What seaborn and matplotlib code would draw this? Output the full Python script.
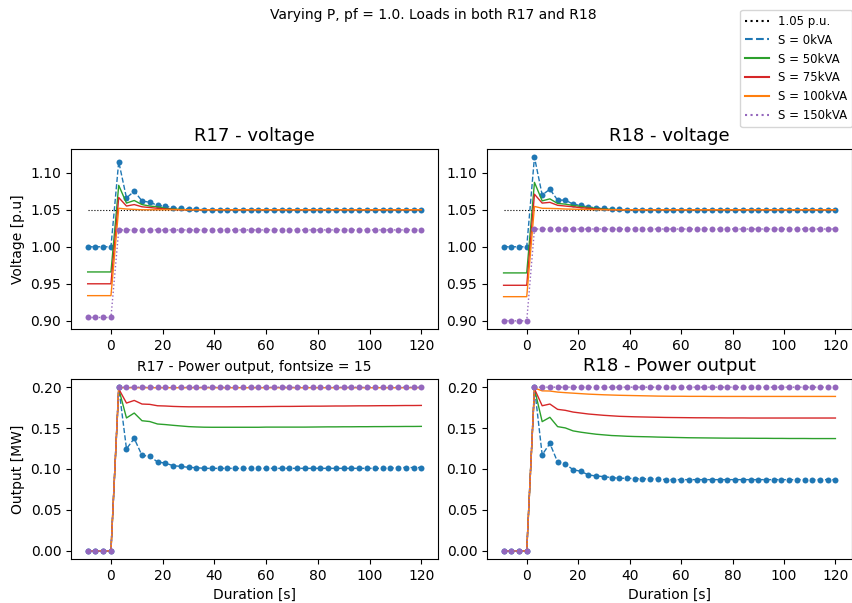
import matplotlib
matplotlib.use("Agg")
import matplotlib.pyplot as plt
from matplotlib.lines import Line2D
import seaborn as sns

time = [-9, -6, -3, 0, 3, 6, 9, 12, 15, 18, 21, 24, 27, 30, 33, 36, 39, 42, 45, 48,
        51, 54, 57, 60, 63, 66, 69, 72, 75, 78, 81, 84, 87, 90, 93, 96, 99, 102,
        105, 108, 111, 114, 117, 120]

ref_t = [-9, 120]
ref_v = [1.05, 1.05]

labels = ["S = 0kVA", "S = 50kVA", "S = 75kVA", "S = 100kVA", "S = 150kVA"]

# ---- R17 voltage ----
r17_v_0 = [1.0, 1.0, 1.0, 1.0, 1.115, 1.066, 1.075, 1.062, 1.060, 1.056, 1.0545, 1.053,
           1.052, 1.051, 1.051, 1.05, 1.05, 1.05, 1.05, 1.05, 1.05, 1.05, 1.05, 1.05,
           1.05, 1.05, 1.05, 1.05, 1.05, 1.05, 1.05, 1.05, 1.05, 1.05, 1.05, 1.05, 1.05,
           1.05, 1.05, 1.05, 1.05, 1.05, 1.05, 1.05]
r17_v_50 = [0.966, 0.966, 0.966, 0.966, 1.083, 1.059, 1.0625, 1.057, 1.055, 1.054, 1.052,
            1.051, 1.0505, 1.05, 1.05, 1.05, 1.05, 1.05, 1.05, 1.05, 1.05, 1.05, 1.05,
            1.05, 1.05, 1.05, 1.05, 1.05, 1.05, 1.05, 1.05, 1.05, 1.05, 1.05, 1.05, 1.05,
            1.05, 1.05, 1.05, 1.05, 1.05, 1.05, 1.05, 1.05]
r17_v_75 = [0.95, 0.95, 0.95, 0.95, 1.0665, 1.055, 1.057, 1.054, 1.053, 1.052, 1.051,
            1.0505, 1.05, 1.05, 1.05, 1.05, 1.05, 1.05, 1.05, 1.05, 1.05, 1.05, 1.05,
            1.05, 1.05, 1.05, 1.05, 1.05, 1.05, 1.05, 1.05, 1.05, 1.05, 1.05, 1.05, 1.05,
            1.05, 1.05, 1.05, 1.05, 1.05, 1.05, 1.05, 1.05]
r17_v_100 = [0.934, 0.934, 0.934, 0.934, 1.052, 1.051, 1.0505, 1.05, 1.05, 1.05, 1.05,
             1.05, 1.05, 1.05, 1.05, 1.05, 1.05, 1.05, 1.05, 1.05, 1.05, 1.05, 1.05,
             1.05, 1.05, 1.05, 1.05, 1.05, 1.05, 1.05, 1.05, 1.05, 1.05, 1.05, 1.05, 1.05,
             1.05, 1.05, 1.05, 1.05, 1.05, 1.05, 1.05, 1.05]
r17_v_150 = [0.9045, 0.9045, 0.9045, 0.9045, 1.0228, 1.0228, 1.0228, 1.0228, 1.0228,
             1.0228, 1.0228, 1.0228, 1.0228, 1.0228, 1.0228, 1.0228, 1.0228, 1.0228,
             1.0228, 1.0228, 1.0228, 1.0228, 1.0228, 1.0228, 1.0228, 1.0228, 1.0228,
             1.0228, 1.0228, 1.0228, 1.0228, 1.0228, 1.0228, 1.0228, 1.0228, 1.0228,
             1.0228, 1.0228, 1.0228, 1.0228, 1.0228, 1.0228, 1.0228, 1.0228]

# ---- R18 voltage ----
r18_v_0 = [1.0, 1.0, 1.0, 1.0, 1.121, 1.070, 1.0777, 1.063, 1.063, 1.0576, 1.0558, 1.0536,
           1.0527, 1.0518, 1.051, 1.051, 1.05, 1.05, 1.05, 1.05, 1.05, 1.05, 1.05, 1.05,
           1.05, 1.05, 1.05, 1.05, 1.05, 1.05, 1.05, 1.05, 1.05, 1.05, 1.05, 1.05, 1.05,
           1.05, 1.05, 1.05, 1.05, 1.05, 1.05, 1.05]
r18_v_50 = [0.9647, 0.9647, 0.9647, 0.9647, 1.087, 1.062, 1.0647, 1.0585, 1.0576, 1.0558,
            1.0545, 1.053, 1.052, 1.051, 1.0505, 1.05, 1.05, 1.05, 1.05, 1.05, 1.05, 1.05,
            1.05, 1.05, 1.05, 1.05, 1.05, 1.05, 1.05, 1.05, 1.05, 1.05, 1.05, 1.05, 1.05,
            1.05, 1.05, 1.05, 1.05, 1.05, 1.05, 1.05, 1.05, 1.05]
r18_v_75 = [0.948, 0.948, 0.948, 0.948, 1.071, 1.059, 1.060, 1.056, 1.055, 1.054, 1.0527,
            1.052, 1.051, 1.0505, 1.05, 1.05, 1.05, 1.05, 1.05, 1.05, 1.05, 1.05, 1.05,
            1.05, 1.05, 1.05, 1.05, 1.05, 1.05, 1.05, 1.05, 1.05, 1.05, 1.05, 1.05, 1.05,
            1.05, 1.05, 1.05, 1.05, 1.05, 1.05, 1.05, 1.05]
r18_v_100 = [0.9326, 0.9326, 0.9326, 0.9326, 1.0545, 1.052, 1.0518, 1.0515, 1.051, 1.0508,
             1.0505, 1.0503, 1.05, 1.05, 1.05, 1.05, 1.05, 1.05, 1.05, 1.05, 1.05, 1.05,
             1.05, 1.05, 1.05, 1.05, 1.05, 1.05, 1.05, 1.05, 1.05, 1.05, 1.05, 1.05, 1.05,
             1.05, 1.05, 1.05, 1.05, 1.05, 1.05, 1.05, 1.05, 1.05]
r18_v_150 = [0.900, 0.900, 0.900, 0.900, 1.024, 1.024, 1.024, 1.024, 1.024, 1.024, 1.024,
             1.024, 1.024, 1.024, 1.024, 1.024, 1.024, 1.024, 1.024, 1.024, 1.024, 1.024,
             1.024, 1.024, 1.024, 1.024, 1.024, 1.024, 1.024, 1.024, 1.024, 1.024, 1.024,
             1.024, 1.024, 1.024, 1.024, 1.024, 1.024, 1.024, 1.024, 1.024, 1.024, 1.024]

# ---- R17 power ----
r17_p_0 = [0.0, 0.0, 0.0, 0.0, 0.200, 0.1247, 0.1373, 0.1166, 0.1158, 0.1085, 0.1073,
           0.104, 0.1032, 0.102, 0.1016, 0.1008, 0.1008, 0.1008, 0.1008, 0.1008, 0.1008,
           0.1008, 0.1008, 0.1008, 0.1008, 0.1008, 0.1008, 0.1008, 0.1008, 0.1008, 0.1008,
           0.1008, 0.1008, 0.1008, 0.1008, 0.1008, 0.1008, 0.1008, 0.1008, 0.101, 0.1018,
           0.1018, 0.1018, 0.1018]
r17_p_50 = [0.0, 0.0, 0.0, 0.0, 0.198, 0.1624, 0.1684, 0.159, 0.158, 0.155, 0.1543, 0.1534,
            0.1526, 0.1518, 0.1514, 0.1511, 0.151, 0.151, 0.151, 0.151, 0.151, 0.151,
            0.151, 0.1512, 0.1512, 0.1512, 0.1512, 0.1512, 0.1512, 0.1513, 0.1514, 0.1515,
            0.1515, 0.1516, 0.1516, 0.1517, 0.1517, 0.1518, 0.1518, 0.1519, 0.1519, 0.152,
            0.152, 0.1521]
r17_p_75 = [0.0, 0.0, 0.0, 0.0, 0.198, 0.1806, 0.1838, 0.1794, 0.179, 0.1773, 0.177,
            0.1765, 0.1762, 0.176, 0.176, 0.176, 0.176, 0.176, 0.176, 0.1761, 0.1761,
            0.1762, 0.1762, 0.1763, 0.1764, 0.1765, 0.1765, 0.1766, 0.1767, 0.1768, 0.1768,
            0.1769, 0.177, 0.177, 0.1771, 0.1772, 0.1772, 0.1773, 0.1774, 0.1774, 0.1775,
            0.1776, 0.1776, 0.1777]
r17_p_100 = [0.0, 0.0, 0.0, 0.0, 0.1995, 0.1993, 0.1993, 0.1993, 0.1993, 0.1993, 0.1993,
             0.1993, 0.1993, 0.1993, 0.1993, 0.1993, 0.1993, 0.1993, 0.1993, 0.1993,
             0.1993, 0.1993, 0.1993, 0.1993, 0.1993, 0.1993, 0.1993, 0.1993, 0.1993,
             0.1993, 0.1993, 0.1993, 0.1993, 0.1993, 0.1993, 0.1993, 0.1993, 0.1993,
             0.1993, 0.1993, 0.1993, 0.1993, 0.1993, 0.1993]
r17_p_150 = [0.0, 0.0, 0.0, 0.0, 0.2, 0.2, 0.2, 0.2, 0.2, 0.2, 0.2, 0.2, 0.2, 0.2, 0.2,
             0.2, 0.2, 0.2, 0.2, 0.2, 0.2, 0.2, 0.2, 0.2, 0.2, 0.2, 0.2, 0.2, 0.2, 0.2,
             0.2, 0.2, 0.2, 0.2, 0.2, 0.2, 0.2, 0.2, 0.2, 0.2, 0.2, 0.2, 0.2, 0.2]

# ---- R18 power ----
r18_p_0 = [0.0, 0.0, 0.0, 0.0, 0.2, 0.1174, 0.1312, 0.1085, 0.1061, 0.0992, 0.0972, 0.0927,
           0.0915, 0.0907, 0.0895, 0.0887, 0.0887, 0.0883, 0.088, 0.088, 0.088, 0.087,
           0.087, 0.087, 0.087, 0.087, 0.087, 0.087, 0.087, 0.087, 0.087, 0.087, 0.087,
           0.087, 0.087, 0.087, 0.087, 0.087, 0.087, 0.087, 0.087, 0.087, 0.087, 0.087]
r18_p_50 = [0.0, 0.0, 0.0, 0.0, 0.198, 0.1579, 0.1632, 0.1518, 0.1502, 0.1466, 0.145,
            0.1437, 0.1425, 0.1417, 0.1409, 0.1405, 0.140, 0.1397, 0.1395, 0.1393, 0.139,
            0.1388, 0.1386, 0.1384, 0.1382, 0.1381, 0.138, 0.1379, 0.1378, 0.1377, 0.1377,
            0.1376, 0.1376, 0.1375, 0.1375, 0.1374, 0.1374, 0.1373, 0.1373, 0.1373, 0.1372,
            0.1372, 0.1372, 0.1372]
r18_p_75 = [0.0, 0.0, 0.0, 0.0, 0.198, 0.1773, 0.1794, 0.1729, 0.1717, 0.1696, 0.1684,
            0.1672, 0.1664, 0.1656, 0.165, 0.1644, 0.1641, 0.1638, 0.1636, 0.1634, 0.1632,
            0.163, 0.1629, 0.1628, 0.1627, 0.1626, 0.1626, 0.1625, 0.1625, 0.1624, 0.1624,
            0.1624, 0.1623, 0.1623, 0.1623, 0.1623, 0.1623, 0.1623, 0.1623, 0.1623, 0.1623,
            0.1623, 0.1623, 0.1623]
r18_p_100 = [0.0, 0.0, 0.0, 0.0, 0.199, 0.1955, 0.1953, 0.194, 0.1933, 0.1927, 0.1921,
             0.1915, 0.1911, 0.1907, 0.1904, 0.1901, 0.1899, 0.1897, 0.1895, 0.1893,
             0.1891, 0.189, 0.1889, 0.1889, 0.1888, 0.1888, 0.1888, 0.1887, 0.1887, 0.1887,
             0.1887, 0.1887, 0.1887, 0.1887, 0.1887, 0.1887, 0.1887, 0.1887, 0.1887,
             0.1887, 0.1887, 0.1887, 0.1887, 0.1887]
r18_p_150 = [0.0, 0.0, 0.0, 0.0, 0.2, 0.2, 0.2, 0.2, 0.2, 0.2, 0.2, 0.2, 0.2, 0.2, 0.2,
             0.2, 0.2, 0.2, 0.2, 0.2, 0.2, 0.2, 0.2, 0.2, 0.2, 0.2, 0.2, 0.2, 0.2, 0.2,
             0.2, 0.2, 0.2, 0.2, 0.2, 0.2, 0.2, 0.2, 0.2, 0.2, 0.2, 0.2, 0.2, 0.2]

colors = ["tab:blue", "tab:green", "tab:red", "tab:orange", "tab:purple"]
linestyles = ["--", "-", "-", "-", ":"]
markers = ["o", None, None, None, "o"]

fig = plt.figure(figsize=(8.53, 6.03), dpi=100)
W, H = 853.0, 603.0

def pos(x0, y0, x1, y1):
    return [x0 / W, 1 - y1 / H, (x1 - x0) / W, (y1 - y0) / H]

ax_v17 = fig.add_axes(pos(71, 149, 438, 329))
ax_v18 = fig.add_axes(pos(487, 149, 852, 329))
ax_p17 = fig.add_axes(pos(71, 379, 438, 559))
ax_p18 = fig.add_axes(pos(487, 379, 852, 559))
ax_v18.sharey(ax_v17)

panels = [
    (ax_v17, [r17_v_0, r17_v_50, r17_v_75, r17_v_100, r17_v_150], True),
    (ax_v18, [r18_v_0, r18_v_50, r18_v_75, r18_v_100, r18_v_150], True),
    (ax_p17, [r17_p_0, r17_p_50, r17_p_75, r17_p_100, r17_p_150], False),
    (ax_p18, [r18_p_0, r18_p_50, r18_p_75, r18_p_100, r18_p_150], False),
]

for ax, series, is_v in panels:
    if is_v:
        sns.lineplot(x=ref_t, y=ref_v, ax=ax, color="black", linestyle=":",
                     linewidth=0.8)
    for s, c, ls, mk in zip(series, colors, linestyles, markers):
        if mk:
            sns.lineplot(x=time, y=s, ax=ax, color=c, linewidth=1.0, linestyle=ls,
                         marker=mk, markersize=4.3, markeredgewidth=0)
        else:
            sns.lineplot(x=time, y=s, ax=ax, color=c, linewidth=1.0, linestyle=ls)
    ax.set_xticks([0, 20, 40, 60, 80, 100, 120])
    ax.tick_params(labelsize=10)
    ax.set_xlabel("")
    ax.set_ylabel("")

for ax in (ax_v17, ax_v18):
    ax.set_yticks([0.90, 0.95, 1.00, 1.05, 1.10])
    ax.set_yticklabels(["0.90", "0.95", "1.00", "1.05", "1.10"])
    ax.tick_params(labelleft=True)
for ax in (ax_p17, ax_p18):
    ax.set_yticks([0.00, 0.05, 0.10, 0.15, 0.20])
    ax.set_yticklabels(["0.00", "0.05", "0.10", "0.15", "0.20"])

ax_v17.set_title("R17 - voltage", fontsize=13)
ax_v18.set_title("R18 - voltage", fontsize=13)
ax_p17.set_title("R17 - Power output, fontsize = 15", fontsize=10)
ax_p18.set_title("R18 - Power output", fontsize=13)

ax_v17.set_ylabel("Voltage [p.u]", fontsize=10)
ax_p17.set_ylabel("Output [MW]", fontsize=10)
ax_p17.set_xlabel("Duration [s]", fontsize=10)
ax_p18.set_xlabel("Duration [s]", fontsize=10)

fig.suptitle("Varying P, pf = 1.0. Loads in both R17 and R18", fontsize=10,
             x=433 / W, y=1 - 8 / H, va="top")

handles = [Line2D([], [], color="black", linestyle=":", linewidth=1.5)]
for c, ls in zip(colors, linestyles):
    handles.append(Line2D([], [], color=c, linestyle=ls, linewidth=1.5))
leg_labels = ["1.05 p.u."] + labels
fig.legend(handles, leg_labels, loc="upper right", bbox_to_anchor=(852 / W, 1 - 10 / H),
           fontsize=8.5, frameon=True, borderaxespad=0)

fig.savefig("out.png", dpi=100)
